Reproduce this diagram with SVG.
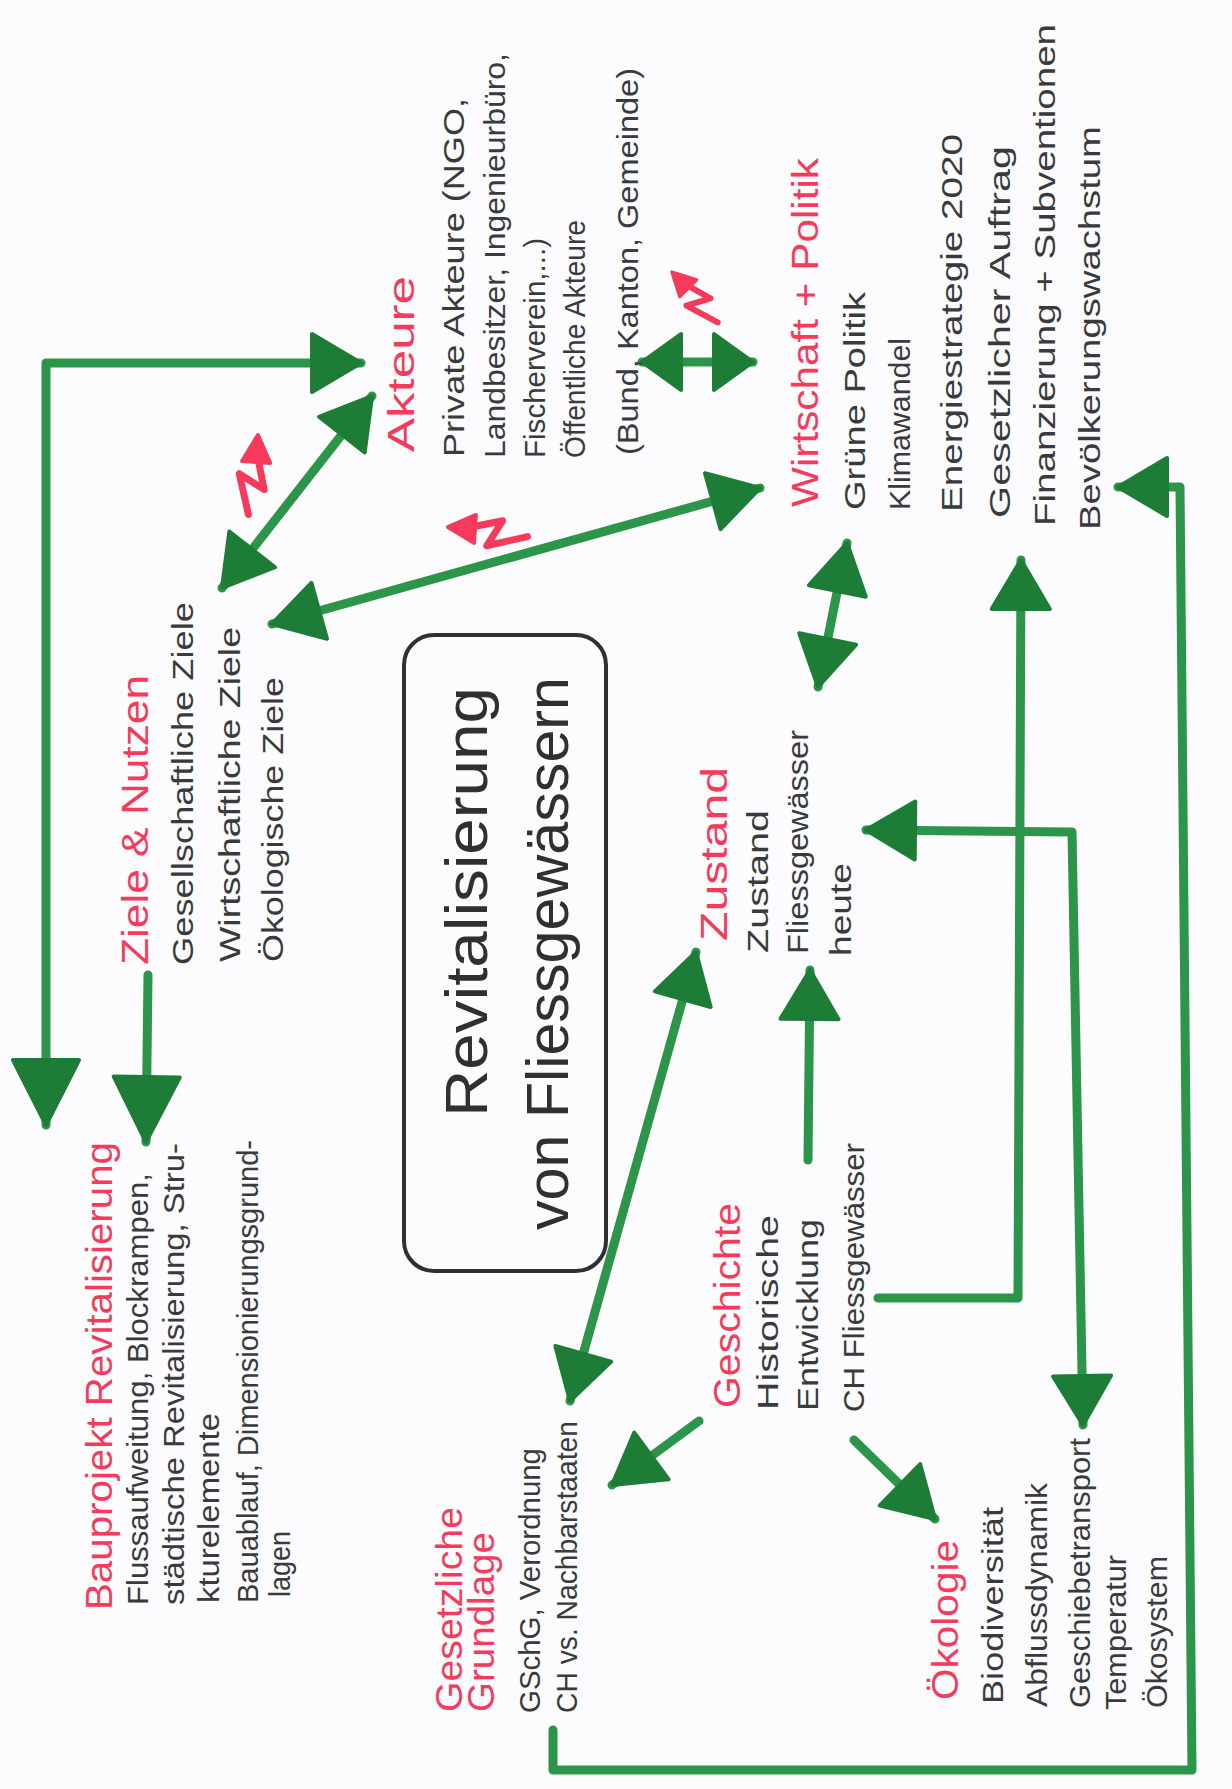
<svg xmlns="http://www.w3.org/2000/svg" width="1232" height="1789" viewBox="0 0 1232 1789">
<style>
.t{font-family:"Liberation Sans",Arial,sans-serif;font-size:30px;fill:#3a3a3c}
.h{font-family:"Liberation Sans",Arial,sans-serif;font-size:36px;fill:#f63a5c}
.big{font-family:"Liberation Sans",Arial,sans-serif;font-size:60px;fill:#303032}
.c{fill:none;stroke:#2c9549;stroke-width:9;stroke-linecap:round;stroke-linejoin:round}
.box{fill:none;stroke:#303032;stroke-width:4}
.zap{fill:none;stroke:#f63a5c;stroke-width:7;stroke-linecap:round;stroke-linejoin:round}
</style>
<defs>
<marker id="ah" viewBox="0 0 54 64" refX="52" refY="32" markerWidth="54" markerHeight="64" markerUnits="userSpaceOnUse" orient="auto-start-reverse">
<path d="M3,3 L52,32 L3,61 Z" fill="#1d7d37" stroke="#1d7d37" stroke-width="4" stroke-linejoin="round"/>
</marker>
<marker id="ahS" viewBox="0 0 44 62" refX="42" refY="31" markerWidth="44" markerHeight="62" markerUnits="userSpaceOnUse" orient="auto-start-reverse">
<path d="M3,3 L42,31 L3,59 Z" fill="#1d7d37" stroke="#1d7d37" stroke-width="4" stroke-linejoin="round"/>
</marker>
<marker id="ahB" viewBox="0 0 70 72" refX="68" refY="36" markerWidth="70" markerHeight="72" markerUnits="userSpaceOnUse" orient="auto-start-reverse">
<path d="M3,3 L68,36 L3,69 Z" fill="#1d7d37" stroke="#1d7d37" stroke-width="4" stroke-linejoin="round"/>
</marker>
<g id="zapShape">
<path d="M0,0 L-14,27 L14,27 Z" fill="#f63a5c" stroke="#f63a5c" stroke-width="4" stroke-linejoin="round"/>
<path class="zap" d="M2,25 L10,54 L-16,40 L-4,80"/>
</g>
</defs>
<rect x="0" y="0" width="1232" height="1789" fill="#fcfcfe"/>

<g id="connectors">
<path class="c" d="M46,1125 L46,363 L361,363" marker-start="url(#ahB)" marker-end="url(#ah)"/>
<path class="c" d="M148,975 L146,1142" marker-end="url(#ahB)"/>
<path class="c" d="M222,588 L372,396" marker-start="url(#ah)" marker-end="url(#ah)"/>
<path class="c" d="M272,624 L760,488" marker-start="url(#ah)" marker-end="url(#ah)"/>
<path class="c" d="M642,362 L753,362" marker-start="url(#ahS)" marker-end="url(#ahS)"/>
<path class="c" d="M818,687 L847,543" marker-start="url(#ah)" marker-end="url(#ah)"/>
<path class="c" d="M808,1160 L810,970" marker-end="url(#ah)"/>
<path class="c" d="M570,1401 L696,952" marker-start="url(#ah)" marker-end="url(#ah)"/>
<path class="c" d="M699,1421 L612,1485" marker-end="url(#ah)"/>
<path class="c" d="M854,1440 L935,1519" marker-end="url(#ah)"/>
<path class="c" d="M878,1298 L1018,1298 L1021,560" marker-end="url(#ah)"/>
<path class="c" d="M866,830 L1072,832 L1083,1425" marker-start="url(#ah)" marker-end="url(#ah)"/>
<path class="c" d="M553,1730 L553,1770 L1192,1770 L1180,487 L1118,487" marker-end="url(#ah)"/>
</g>

<g id="conflicts">
<use href="#zapShape" transform="translate(258,435) rotate(4)"/>
<use href="#zapShape" transform="translate(448,527) rotate(-86)"/>
<use href="#zapShape" transform="translate(672,272) rotate(-45) scale(0.85)"/>
</g>

<g id="center">
<rect class="box" x="404" y="635" width="202" height="636" rx="30"/>
<text class="big" font-size="64" transform="translate(487,1117) rotate(-90)" textLength="430" lengthAdjust="spacingAndGlyphs">Revitalisierung</text>
<text class="big" transform="translate(568,1230) rotate(-90)" textLength="553" lengthAdjust="spacingAndGlyphs">von Fliessgewässern</text>
</g>

<g id="bauprojekt">
<text class="h" transform="translate(112,1610) rotate(-90)" textLength="468" lengthAdjust="spacingAndGlyphs">Bauprojekt Revitalisierung</text>
<text class="t" transform="translate(148,1605) rotate(-90)" textLength="432" lengthAdjust="spacingAndGlyphs">Flussaufweitung, Blockrampen,</text>
<text class="t" transform="translate(184,1605) rotate(-90)" textLength="462" lengthAdjust="spacingAndGlyphs">städtische Revitalisierung, Stru-</text>
<text class="t" transform="translate(219,1603) rotate(-90)" textLength="190" lengthAdjust="spacingAndGlyphs">kturelemente</text>
<text class="t" transform="translate(258,1603) rotate(-90)" textLength="463" lengthAdjust="spacingAndGlyphs">Bauablauf, Dimensionierungsgrund-</text>
<text class="t" transform="translate(290,1597) rotate(-90)" textLength="66" lengthAdjust="spacingAndGlyphs">lagen</text>
</g>

<g id="ziele">
<text class="h" font-size="34" transform="translate(148,965) rotate(-90)" textLength="290" lengthAdjust="spacingAndGlyphs">Ziele &amp; Nutzen</text>
<text class="t" transform="translate(193,965) rotate(-90)" textLength="363" lengthAdjust="spacingAndGlyphs">Gesellschaftliche Ziele</text>
<text class="t" transform="translate(240,962) rotate(-90)" textLength="335" lengthAdjust="spacingAndGlyphs">Wirtschaftliche Ziele</text>
<text class="t" transform="translate(283,962) rotate(-90)" textLength="285" lengthAdjust="spacingAndGlyphs">Ökologische Ziele</text>
</g>

<g id="akteure">
<text class="h" transform="translate(414,452) rotate(-90)" textLength="176" lengthAdjust="spacingAndGlyphs">Akteure</text>
<text class="t" transform="translate(464,457) rotate(-90)" textLength="359" lengthAdjust="spacingAndGlyphs">Private Akteure (NGO,</text>
<text class="t" transform="translate(505,458) rotate(-90)" textLength="405" lengthAdjust="spacingAndGlyphs">Landbesitzer, Ingenieurbüro,</text>
<text class="t" transform="translate(545,458) rotate(-90)" textLength="220" lengthAdjust="spacingAndGlyphs">Fischerverein,...)</text>
<text class="t" transform="translate(585,458) rotate(-90)" textLength="238" lengthAdjust="spacingAndGlyphs">Öffentliche Akteure</text>
<text class="t" transform="translate(638,455) rotate(-90)" textLength="387" lengthAdjust="spacingAndGlyphs">(Bund, Kanton, Gemeinde)</text>
</g>

<g id="wirtschaft">
<text class="h" font-size="40" transform="translate(818,507) rotate(-90)" textLength="349" lengthAdjust="spacingAndGlyphs">Wirtschaft + Politik</text>
<text class="t" transform="translate(865,510) rotate(-90)" textLength="218" lengthAdjust="spacingAndGlyphs">Grüne Politik</text>
<text class="t" transform="translate(910,510) rotate(-90)" textLength="172" lengthAdjust="spacingAndGlyphs">Klimawandel</text>
<text class="t" transform="translate(962,512) rotate(-90)" textLength="378" lengthAdjust="spacingAndGlyphs">Energiestrategie 2020</text>
<text class="t" transform="translate(1010,518) rotate(-90)" textLength="372" lengthAdjust="spacingAndGlyphs">Gesetzlicher Auftrag</text>
<text class="t" transform="translate(1055,526) rotate(-90)" textLength="502" lengthAdjust="spacingAndGlyphs">Finanzierung + Subventionen</text>
<text class="t" transform="translate(1100,530) rotate(-90)" textLength="404" lengthAdjust="spacingAndGlyphs">Bevölkerungswachstum</text>
</g>

<g id="zustand">
<text class="h" transform="translate(727,941) rotate(-90)" textLength="174" lengthAdjust="spacingAndGlyphs">Zustand</text>
<text class="t" transform="translate(768,953) rotate(-90)" textLength="143" lengthAdjust="spacingAndGlyphs">Zustand</text>
<text class="t" transform="translate(808,954) rotate(-90)" textLength="224" lengthAdjust="spacingAndGlyphs">Fliessgewässer</text>
<text class="t" transform="translate(851,956) rotate(-90)" textLength="93" lengthAdjust="spacingAndGlyphs">heute</text>
</g>

<g id="geschichte">
<text class="h" transform="translate(740,1408) rotate(-90)" textLength="205" lengthAdjust="spacingAndGlyphs">Geschichte</text>
<text class="t" transform="translate(778,1410) rotate(-90)" textLength="195" lengthAdjust="spacingAndGlyphs">Historische</text>
<text class="t" transform="translate(818,1411) rotate(-90)" textLength="192" lengthAdjust="spacingAndGlyphs">Entwicklung</text>
<text class="t" transform="translate(864,1412) rotate(-90)" textLength="269" lengthAdjust="spacingAndGlyphs">CH Fliessgewässer</text>
</g>

<g id="oekologie">
<text class="h" transform="translate(958,1700) rotate(-90)" textLength="160" lengthAdjust="spacingAndGlyphs">Ökologie</text>
<text class="t" transform="translate(1003,1704) rotate(-90)" textLength="197" lengthAdjust="spacingAndGlyphs">Biodiversität</text>
<text class="t" transform="translate(1047,1707) rotate(-90)" textLength="224" lengthAdjust="spacingAndGlyphs">Abflussdynamik</text>
<text class="t" transform="translate(1090,1708) rotate(-90)" textLength="270" lengthAdjust="spacingAndGlyphs">Geschiebetransport</text>
<text class="t" transform="translate(1126,1710) rotate(-90)" textLength="155" lengthAdjust="spacingAndGlyphs">Temperatur</text>
<text class="t" transform="translate(1167,1708) rotate(-90)" textLength="152" lengthAdjust="spacingAndGlyphs">Ökosystem</text>
</g>

<g id="gesetzliche">
<text class="h" font-size="33" transform="translate(462,1712) rotate(-90)" textLength="205" lengthAdjust="spacingAndGlyphs">Gesetzliche</text>
<text class="h" font-size="33" transform="translate(494,1712) rotate(-90)" textLength="180" lengthAdjust="spacingAndGlyphs">Grundlage</text>
<text class="t" transform="translate(540,1713) rotate(-90)" textLength="265" lengthAdjust="spacingAndGlyphs">GSchG, Verordnung</text>
<text class="t" transform="translate(577,1713) rotate(-90)" textLength="292" lengthAdjust="spacingAndGlyphs">CH vs. Nachbarstaaten</text>
</g>
</svg>
